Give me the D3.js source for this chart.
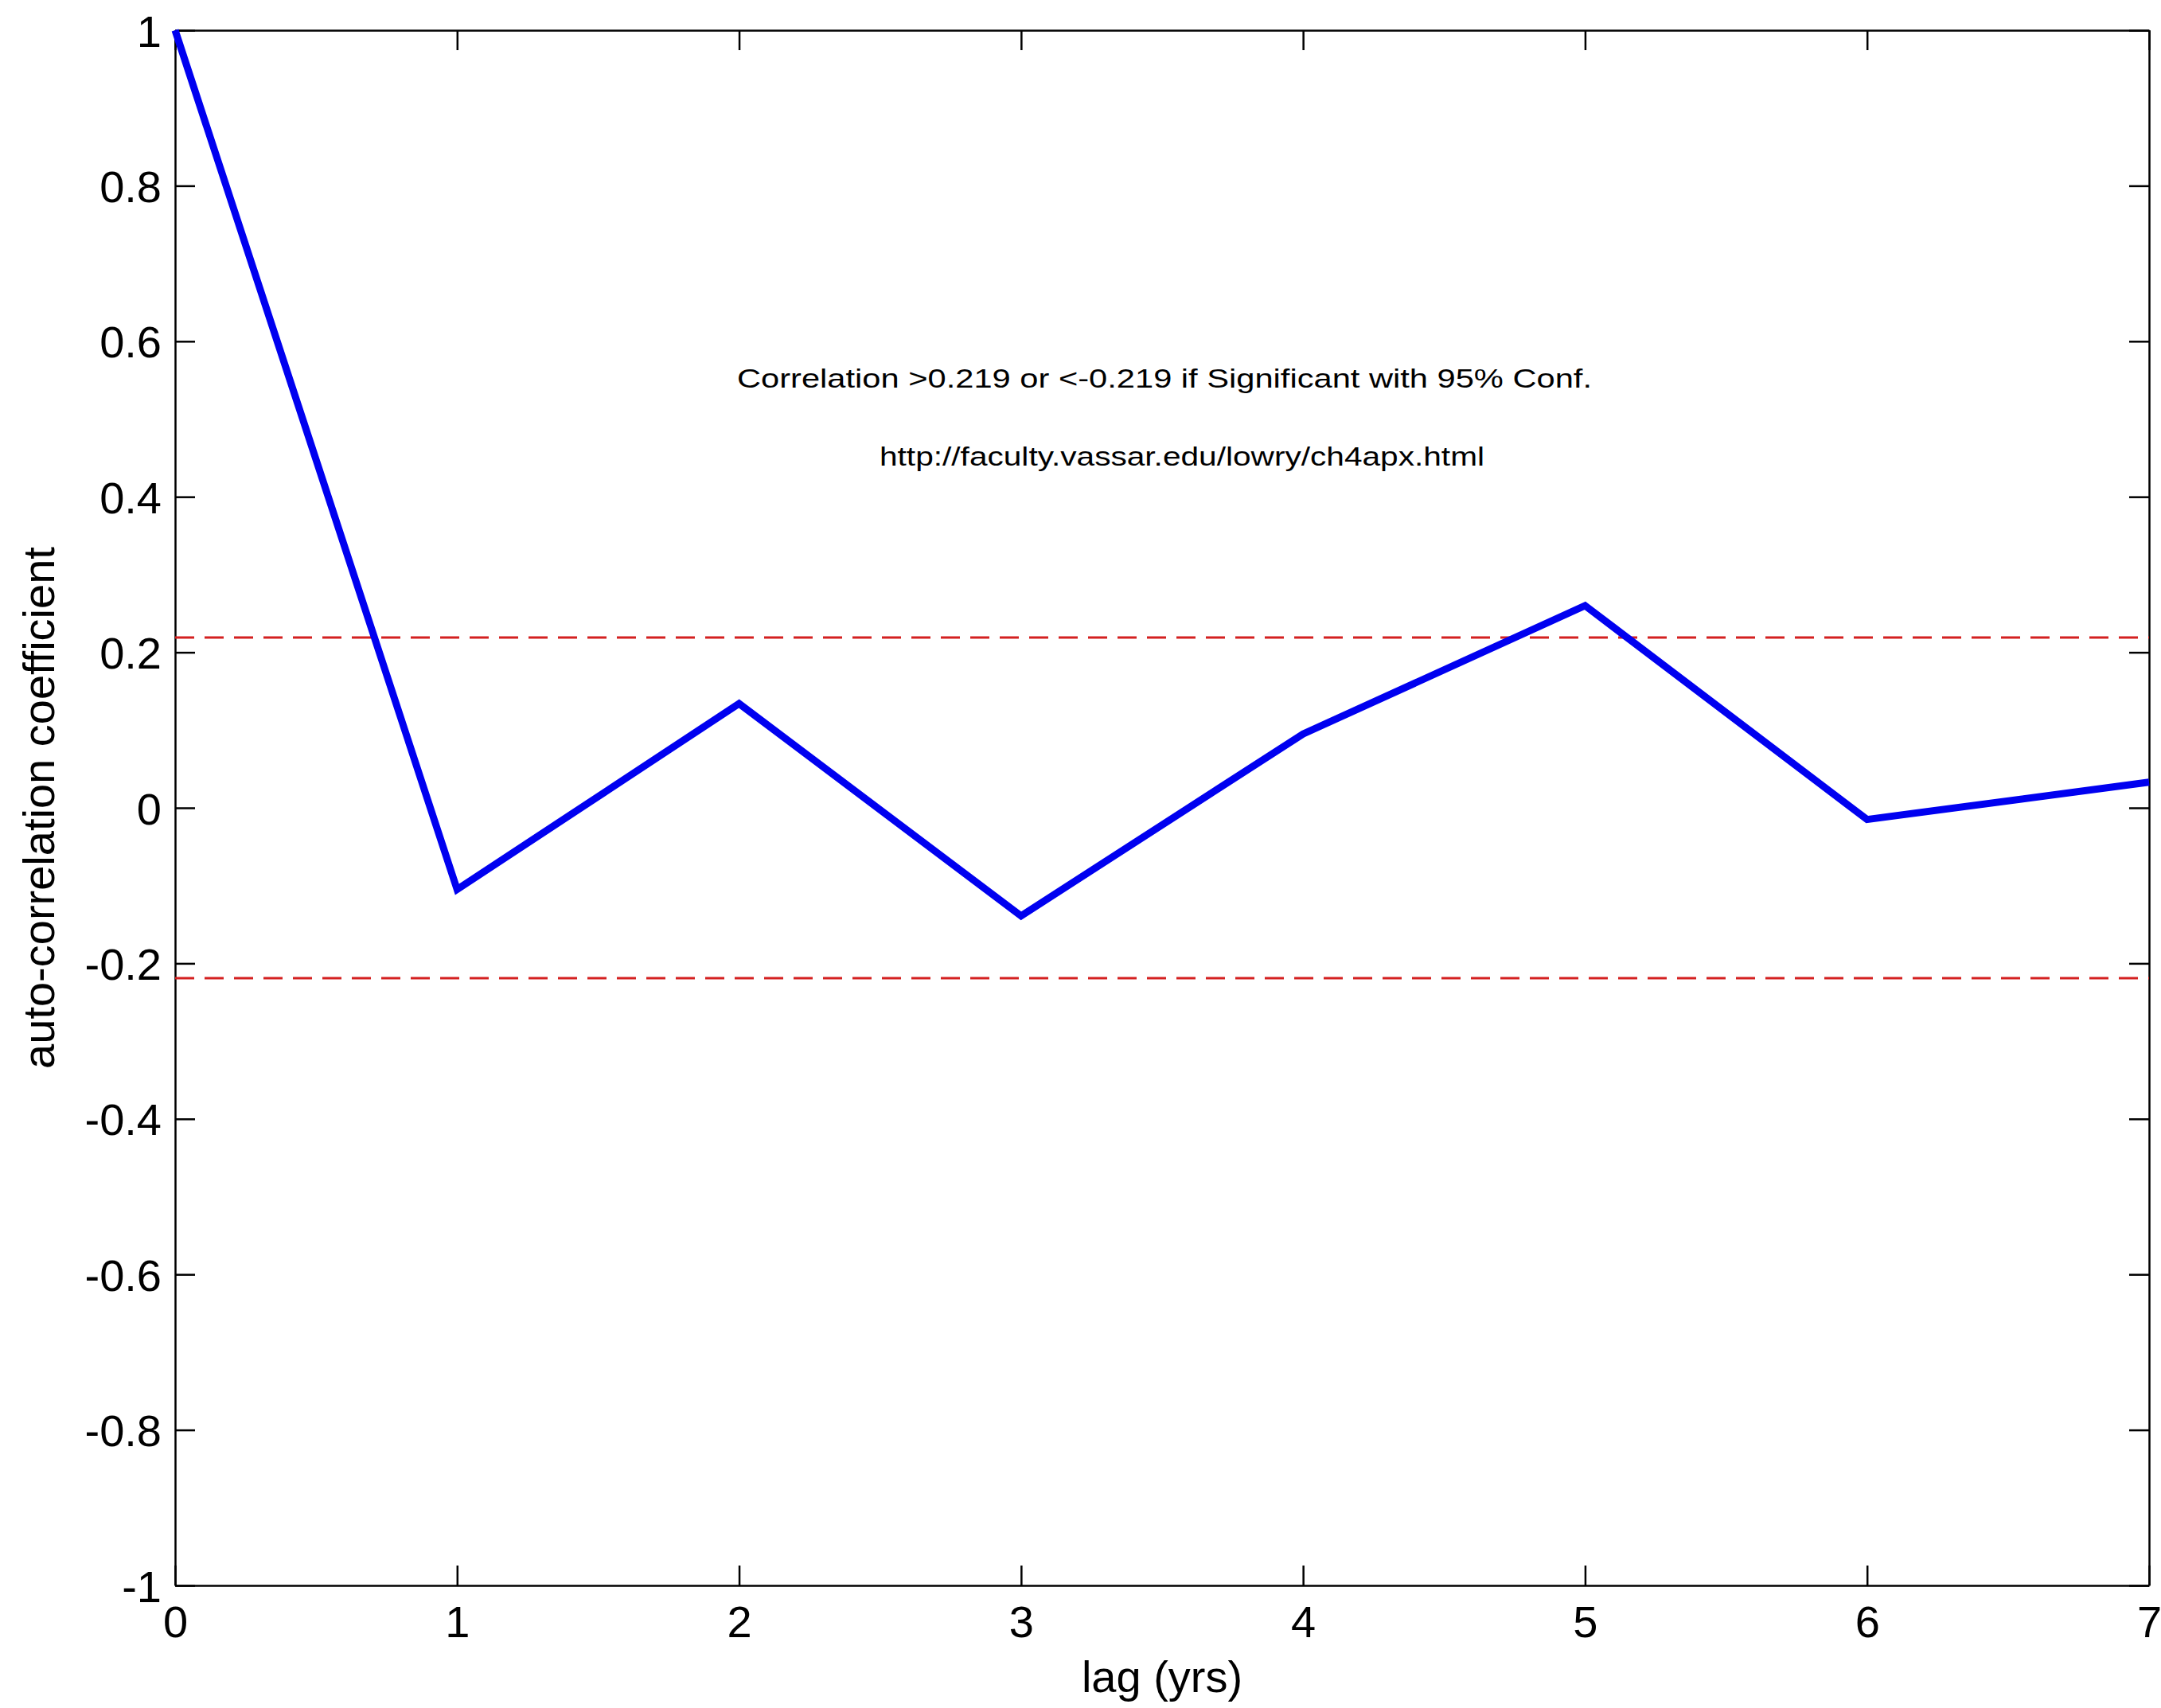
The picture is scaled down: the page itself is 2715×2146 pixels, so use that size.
<!DOCTYPE html>
<html>
<head>
<meta charset="utf-8">
<script src="https://cdn.jsdelivr.net/npm/d3@7"></script>
<style>
  html, body { margin: 0; padding: 0; background: #fff; }
  svg { display: block; }
  text { font-family: "Liberation Sans", Arial, sans-serif; fill: #000; }
</style>
</head>
<body>
<script>
// ---- data ----
const lags = [0, 1, 2, 3, 4, 5, 6, 7];
const acf = [1.0, -0.105, 0.134, -0.139, 0.095, 0.260, -0.015, 0.033];
const sigLevel = [0.219, -0.219];
const xTicks = [0, 1, 2, 3, 4, 5, 6, 7];
const yTicks = [-1, -0.8, -0.6, -0.4, -0.2, 0, 0.2, 0.4, 0.6, 0.8, 1];
const yTickLabels = ["-1", "-0.8", "-0.6", "-0.4", "-0.2", "0", "0.2", "0.4", "0.6", "0.8", "1"];
const xLabel = "lag (yrs)";
const yLabel = "auto-correlation coefficient";
const note1 = "Correlation >0.219 or <-0.219 if Significant with 95% Conf.";
const note2 = "http://faculty.vassar.edu/lowry/ch4apx.html";

// ---- layout ----
const W = 2715, H = 2146;
const L = 220, R = 2700, T = 38, B = 1992;

const svg = d3.select("body").append("svg").attr("width", W).attr("height", H);
svg.append("rect").attr("width", W).attr("height", H).attr("fill", "#fff");

const x = d3.scaleLinear().domain([0, 7]).range([L, R]);
const y = d3.scaleLinear().domain([-1, 1]).range([B, T]);

const fmtY = (d, i) => yTickLabels[i];

// bottom axis
const gB = svg.append("g").attr("transform", `translate(0,${B})`)
  .call(d3.axisBottom(x).tickValues(xTicks).tickSizeInner(-25).tickSizeOuter(0).tickPadding(25).tickFormat(d3.format("d")));
// top axis (ticks only)
const gT = svg.append("g").attr("transform", `translate(0,${T})`)
  .call(d3.axisTop(x).tickValues(xTicks).tickSizeInner(-25).tickSizeOuter(0).tickFormat(""));
// left axis
const gL = svg.append("g").attr("transform", `translate(${L},0)`)
  .call(d3.axisLeft(y).tickValues(yTicks).tickSizeInner(-25).tickSizeOuter(0).tickPadding(17).tickFormat(fmtY));
// right axis (ticks only)
const gR = svg.append("g").attr("transform", `translate(${R},0)`)
  .call(d3.axisRight(y).tickValues(yTicks).tickSizeInner(-25).tickSizeOuter(0).tickFormat(""));

[gB, gT, gL, gR].forEach(g => {
  g.select(".domain").attr("stroke", "#000").attr("stroke-width", 2.5);
  g.selectAll(".tick line").attr("stroke", "#000").attr("stroke-width", 2.5);
  g.selectAll(".tick text")
    .style("font-family", '"Liberation Sans", Arial, sans-serif')
    .style("font-size", "56px").attr("fill", "#000");
});
gB.selectAll(".tick text").attr("dy", "0.72em");
gL.selectAll(".tick text").attr("dy", "0.36em");

// significance lines
svg.append("g").selectAll("line").data(sigLevel).join("line")
  .attr("x1", x(0)).attr("x2", x(7))
  .attr("y1", d => y(d)).attr("y2", d => y(d))
  .attr("stroke", "#d42020").attr("stroke-width", 3)
  .attr("stroke-dasharray", "24,13");

// series line
const line = d3.line().x((d, i) => x(lags[i])).y(d => y(d));
svg.append("path").datum(acf)
  .attr("d", line)
  .attr("fill", "none")
  .attr("stroke", "#0000f0")
  .attr("stroke-width", 9)
  .attr("stroke-linejoin", "miter")
  .attr("stroke-miterlimit", 10);

// annotations
svg.append("text").attr("x", 926).attr("y", 487)
  .attr("textLength", 1074).attr("lengthAdjust", "spacingAndGlyphs")
  .style("font-size", "34px").text(note1);
svg.append("text").attr("x", 1105).attr("y", 585)
  .attr("textLength", 760).attr("lengthAdjust", "spacingAndGlyphs")
  .style("font-size", "34px").text(note2);

// axis labels
svg.append("text").attr("x", (L + R) / 2).attr("y", 2126)
  .attr("text-anchor", "middle").style("font-size", "56px").text(xLabel);
svg.append("text")
  .attr("transform", `translate(68,${(T + B) / 2}) rotate(-90)`)
  .attr("text-anchor", "middle").style("font-size", "56px").text(yLabel);
</script>
</body>
</html>
